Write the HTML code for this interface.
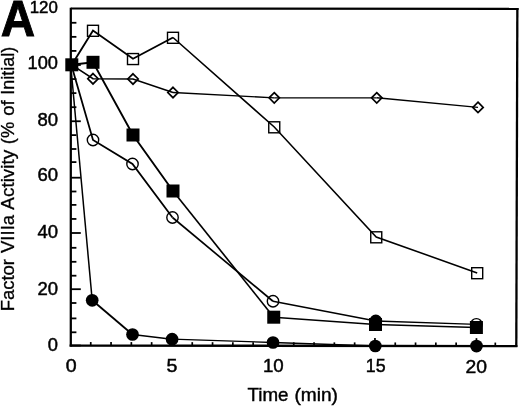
<!DOCTYPE html>
<html><head><meta charset="utf-8"><title>Figure A</title>
<style>html,body{margin:0;padding:0;background:#fff}body{width:520px;height:406px;overflow:hidden}</style></head>
<body>
<svg width="520" height="406" viewBox="0 0 520 406" style="display:block">
<rect width="520" height="406" fill="#fff"/>
<g stroke="#000" fill="none">
<line x1="70.8" y1="7.699999999999999" x2="70.8" y2="346.6" stroke-width="2.25"/>
<line x1="69.6" y1="345.6" x2="517.4" y2="346.1" stroke-width="2.4"/>
<line x1="70.8" y1="8.5" x2="518.6" y2="8.85" stroke-width="2.2"/>
<line x1="517.35" y1="8" x2="516.3" y2="347.1" stroke-width="2.3"/>
<line x1="70.8" y1="345.50" x2="80.8" y2="345.50" stroke-width="1.8"/>
<line x1="70.8" y1="332.30" x2="76.39999999999999" y2="332.30" stroke-width="1.8"/>
<line x1="70.8" y1="318.40" x2="76.39999999999999" y2="318.40" stroke-width="1.8"/>
<line x1="70.8" y1="303.00" x2="76.39999999999999" y2="303.00" stroke-width="1.8"/>
<line x1="70.8" y1="289.20" x2="80.8" y2="289.20" stroke-width="1.8"/>
<line x1="70.8" y1="275.70" x2="76.39999999999999" y2="275.70" stroke-width="1.8"/>
<line x1="70.8" y1="261.80" x2="76.39999999999999" y2="261.80" stroke-width="1.8"/>
<line x1="70.8" y1="247.80" x2="76.39999999999999" y2="247.80" stroke-width="1.8"/>
<line x1="70.8" y1="233.00" x2="80.8" y2="233.00" stroke-width="1.8"/>
<line x1="70.8" y1="218.94" x2="76.39999999999999" y2="218.94" stroke-width="1.8"/>
<line x1="70.8" y1="204.88" x2="76.39999999999999" y2="204.88" stroke-width="1.8"/>
<line x1="70.8" y1="191.50" x2="76.39999999999999" y2="191.50" stroke-width="1.8"/>
<line x1="70.8" y1="177.70" x2="80.8" y2="177.70" stroke-width="1.8"/>
<line x1="70.8" y1="162.10" x2="76.39999999999999" y2="162.10" stroke-width="1.8"/>
<line x1="70.8" y1="149.00" x2="76.39999999999999" y2="149.00" stroke-width="1.8"/>
<line x1="70.8" y1="135.12" x2="76.39999999999999" y2="135.12" stroke-width="1.8"/>
<line x1="70.8" y1="121.25" x2="80.8" y2="121.25" stroke-width="1.8"/>
<line x1="70.8" y1="107.19" x2="76.39999999999999" y2="107.19" stroke-width="1.8"/>
<line x1="70.8" y1="93.12" x2="76.39999999999999" y2="93.12" stroke-width="1.8"/>
<line x1="70.8" y1="79.06" x2="76.39999999999999" y2="79.06" stroke-width="1.8"/>
<line x1="70.8" y1="65.00" x2="80.8" y2="65.00" stroke-width="1.8"/>
<line x1="70.8" y1="50.92" x2="76.39999999999999" y2="50.92" stroke-width="1.8"/>
<line x1="70.8" y1="36.85" x2="76.39999999999999" y2="36.85" stroke-width="1.8"/>
<line x1="70.8" y1="22.78" x2="76.39999999999999" y2="22.78" stroke-width="1.8"/>
<line x1="90.75" y1="345.63" x2="90.75" y2="342.03" stroke-width="1.7"/>
<line x1="111.05" y1="345.65" x2="111.05" y2="342.05" stroke-width="1.7"/>
<line x1="131.35" y1="345.68" x2="131.35" y2="342.08" stroke-width="1.7"/>
<line x1="151.65" y1="345.71" x2="151.65" y2="342.11" stroke-width="1.7"/>
<line x1="171.95" y1="345.74" x2="171.95" y2="337.74" stroke-width="1.7"/>
<line x1="192.25" y1="345.76" x2="192.25" y2="342.16" stroke-width="1.7"/>
<line x1="212.55" y1="345.79" x2="212.55" y2="342.19" stroke-width="1.7"/>
<line x1="232.85" y1="345.82" x2="232.85" y2="342.22" stroke-width="1.7"/>
<line x1="253.15" y1="345.85" x2="253.15" y2="342.25" stroke-width="1.7"/>
<line x1="273.45" y1="345.87" x2="273.45" y2="337.87" stroke-width="1.7"/>
<line x1="293.75" y1="345.90" x2="293.75" y2="342.30" stroke-width="1.7"/>
<line x1="314.05" y1="345.93" x2="314.05" y2="342.33" stroke-width="1.7"/>
<line x1="334.35" y1="345.96" x2="334.35" y2="342.36" stroke-width="1.7"/>
<line x1="354.65" y1="345.98" x2="354.65" y2="342.38" stroke-width="1.7"/>
<line x1="374.95" y1="346.01" x2="374.95" y2="338.01" stroke-width="1.7"/>
<line x1="395.25" y1="346.04" x2="395.25" y2="342.44" stroke-width="1.7"/>
<line x1="415.55" y1="346.06" x2="415.55" y2="342.46" stroke-width="1.7"/>
<line x1="435.85" y1="346.09" x2="435.85" y2="342.49" stroke-width="1.7"/>
<line x1="456.15" y1="346.12" x2="456.15" y2="342.52" stroke-width="1.7"/>
<line x1="476.45" y1="346.15" x2="476.45" y2="338.15" stroke-width="1.7"/>
<line x1="495.30" y1="346.17" x2="495.30" y2="342.57" stroke-width="1.7"/>
</g>
<polyline fill="none" stroke="#000" stroke-width="1.9" points="71.80,64.80 93.00,30.50 133.00,58.75 173.00,37.50"/>
<polyline fill="none" stroke="#000" stroke-width="1.55" points="173.00,37.50 274.25,127.00 376.25,237.00 477.20,272.90"/>
<polyline fill="none" stroke="#000" stroke-width="1.9" points="71.80,64.80 93.00,62.30 133.00,135.00 173.00,191.00"/>
<polyline fill="none" stroke="#000" stroke-width="1.65" points="173.00,191.00 273.75,317.20"/>
<polyline fill="none" stroke="#000" stroke-width="1.4" points="273.75,317.20 375.50,324.50"/>
<polyline fill="none" stroke="#000" stroke-width="1.3" points="375.50,324.50 476.40,327.50"/>
<polyline fill="none" stroke="#000" stroke-width="1.6" points="71.80,64.80 93.00,78.75 133.00,79.00 173.00,92.50"/>
<polyline fill="none" stroke="#000" stroke-width="1.35" points="173.00,92.50 274.25,97.80"/>
<polyline fill="none" stroke="#000" stroke-width="1.25" points="274.25,97.80 376.75,97.80"/>
<polyline fill="none" stroke="#000" stroke-width="1.45" points="376.75,97.80 478.00,107.40"/>
<polyline fill="none" stroke="#000" stroke-width="1.8" points="71.30,64.80 93.00,140.00 132.50,164.00 172.50,217.50"/>
<polyline fill="none" stroke="#000" stroke-width="1.65" points="172.50,217.50 273.00,301.25"/>
<polyline fill="none" stroke="#000" stroke-width="1.55" points="273.00,301.25 375.80,321.00"/>
<polyline fill="none" stroke="#000" stroke-width="1.3" points="375.80,321.00 476.40,324.30"/>
<polyline fill="none" stroke="#000" stroke-width="1.5" points="70.70,64.80 92.20,300.30"/>
<polyline fill="none" stroke="#000" stroke-width="1.8" points="92.20,300.30 132.50,334.50"/>
<polyline fill="none" stroke="#000" stroke-width="1.45" points="132.50,334.50 172.10,339.20"/>
<polyline fill="none" stroke="#000" stroke-width="1.3" points="172.10,339.20 273.00,342.50 375.30,346.00 476.50,346.10"/>
<rect x="87.50" y="25.30" width="11" height="11" fill="none" stroke="#000" stroke-width="1.4"/>
<rect x="127.50" y="53.55" width="11" height="11" fill="none" stroke="#000" stroke-width="1.4"/>
<rect x="167.50" y="32.30" width="11" height="11" fill="none" stroke="#000" stroke-width="1.4"/>
<rect x="268.75" y="121.80" width="11" height="11" fill="none" stroke="#000" stroke-width="1.4"/>
<rect x="370.75" y="231.80" width="11" height="11" fill="none" stroke="#000" stroke-width="1.4"/>
<rect x="471.70" y="267.70" width="11" height="11" fill="none" stroke="#000" stroke-width="1.4"/>
<path d="M93.00 73.55 l5.2 5.2 l-5.2 5.2 l-5.2 -5.2 z" fill="none" stroke="#000" stroke-width="1.7"/>
<path d="M133.00 73.80 l5.2 5.2 l-5.2 5.2 l-5.2 -5.2 z" fill="none" stroke="#000" stroke-width="1.7"/>
<path d="M173.00 87.30 l5.2 5.2 l-5.2 5.2 l-5.2 -5.2 z" fill="none" stroke="#000" stroke-width="1.7"/>
<path d="M274.25 92.60 l5.2 5.2 l-5.2 5.2 l-5.2 -5.2 z" fill="none" stroke="#000" stroke-width="1.7"/>
<path d="M376.75 92.60 l5.2 5.2 l-5.2 5.2 l-5.2 -5.2 z" fill="none" stroke="#000" stroke-width="1.7"/>
<path d="M478.00 102.20 l5.2 5.2 l-5.2 5.2 l-5.2 -5.2 z" fill="none" stroke="#000" stroke-width="1.7"/>
<circle cx="93.00" cy="140.00" r="5.7" fill="none" stroke="#000" stroke-width="1.4"/>
<circle cx="132.50" cy="164.00" r="5.7" fill="none" stroke="#000" stroke-width="1.4"/>
<circle cx="172.50" cy="217.50" r="5.7" fill="none" stroke="#000" stroke-width="1.4"/>
<circle cx="273.00" cy="301.25" r="5.7" fill="none" stroke="#000" stroke-width="1.4"/>
<circle cx="375.80" cy="321.00" r="5.7" fill="#000" stroke="#000" stroke-width="1.4"/>
<circle cx="476.40" cy="324.30" r="5.7" fill="none" stroke="#000" stroke-width="1.4"/>
<rect x="65.30" y="58.30" width="13" height="13" fill="#000"/>
<rect x="86.50" y="55.80" width="13" height="13" fill="#000"/>
<rect x="126.50" y="128.50" width="13" height="13" fill="#000"/>
<rect x="166.50" y="184.50" width="13" height="13" fill="#000"/>
<rect x="267.25" y="310.70" width="13" height="13" fill="#000"/>
<rect x="369.00" y="318.00" width="13" height="13" fill="#000"/>
<rect x="469.90" y="321.00" width="13" height="13" fill="#000"/>
<circle cx="92.20" cy="300.30" r="6.35" fill="#000"/>
<circle cx="132.50" cy="334.50" r="6.35" fill="#000"/>
<circle cx="172.10" cy="339.20" r="6.35" fill="#000"/>
<circle cx="273.00" cy="342.50" r="6.35" fill="#000"/>
<circle cx="375.30" cy="346.00" r="6.35" fill="#000"/>
<circle cx="476.50" cy="346.10" r="6.35" fill="#000"/>
<g font-family="'Liberation Sans', Arial, Helvetica, sans-serif" fill="#000" stroke="#000" stroke-width="0.45">
<text x="0.65" y="36.45" font-size="49.4" font-weight="bold" stroke-width="0.9" stroke-linejoin="miter" textLength="34.35" lengthAdjust="spacingAndGlyphs">A</text>
<text x="58.00" y="351.00" font-size="17.7" text-anchor="end" textLength="10.2" lengthAdjust="spacingAndGlyphs">0</text>
<text x="58.00" y="294.60" font-size="17.7" text-anchor="end" textLength="20.6" lengthAdjust="spacingAndGlyphs">20</text>
<text x="58.00" y="237.90" font-size="17.7" text-anchor="end" textLength="20.6" lengthAdjust="spacingAndGlyphs">40</text>
<text x="58.00" y="181.45" font-size="17.7" text-anchor="end" textLength="20.6" lengthAdjust="spacingAndGlyphs">60</text>
<text x="58.00" y="125.85" font-size="17.7" text-anchor="end" textLength="20.6" lengthAdjust="spacingAndGlyphs">80</text>
<text x="57.90" y="68.50" font-size="17.7" text-anchor="end" textLength="30.4" lengthAdjust="spacingAndGlyphs">100</text>
<text x="57.90" y="12.90" font-size="16.8" text-anchor="end" textLength="28.2" lengthAdjust="spacingAndGlyphs">120</text>
<text x="71.20" y="372.00" font-size="17.9" text-anchor="middle" textLength="10.9" lengthAdjust="spacingAndGlyphs">0</text>
<text x="172.00" y="372.00" font-size="17.9" text-anchor="middle" textLength="10.9" lengthAdjust="spacingAndGlyphs">5</text>
<text x="273.30" y="372.10" font-size="17.9" text-anchor="middle" textLength="20.8" lengthAdjust="spacingAndGlyphs">10</text>
<text x="375.70" y="372.20" font-size="17.9" text-anchor="middle" textLength="19.8" lengthAdjust="spacingAndGlyphs">15</text>
<text x="476.30" y="372.70" font-size="17.9" text-anchor="middle" textLength="21.5" lengthAdjust="spacingAndGlyphs">20</text>
<text y="400.5" font-size="17.7" stroke-width="0.4"><tspan x="247.47" textLength="41.05" lengthAdjust="spacingAndGlyphs">Time</tspan> <tspan x="294.40" textLength="43.56" lengthAdjust="spacingAndGlyphs">(min)</tspan></text>
<text transform="translate(14.05,0) rotate(-90)" y="0" font-size="17.6" stroke-width="0.3"><tspan x="-311.33" textLength="52.32" lengthAdjust="spacingAndGlyphs">Factor</tspan> <tspan x="-253.05" textLength="38.14" lengthAdjust="spacingAndGlyphs">VIIIa</tspan> <tspan x="-209.65" textLength="59.80" lengthAdjust="spacingAndGlyphs">Activity</tspan> <tspan x="-144.15" textLength="22.33" lengthAdjust="spacingAndGlyphs">(%</tspan> <tspan x="-115.79" textLength="15.51" lengthAdjust="spacingAndGlyphs">of</tspan> <tspan x="-94.67" textLength="47.97" lengthAdjust="spacingAndGlyphs">Initial)</tspan></text>
</g>
</svg>
</body></html>
